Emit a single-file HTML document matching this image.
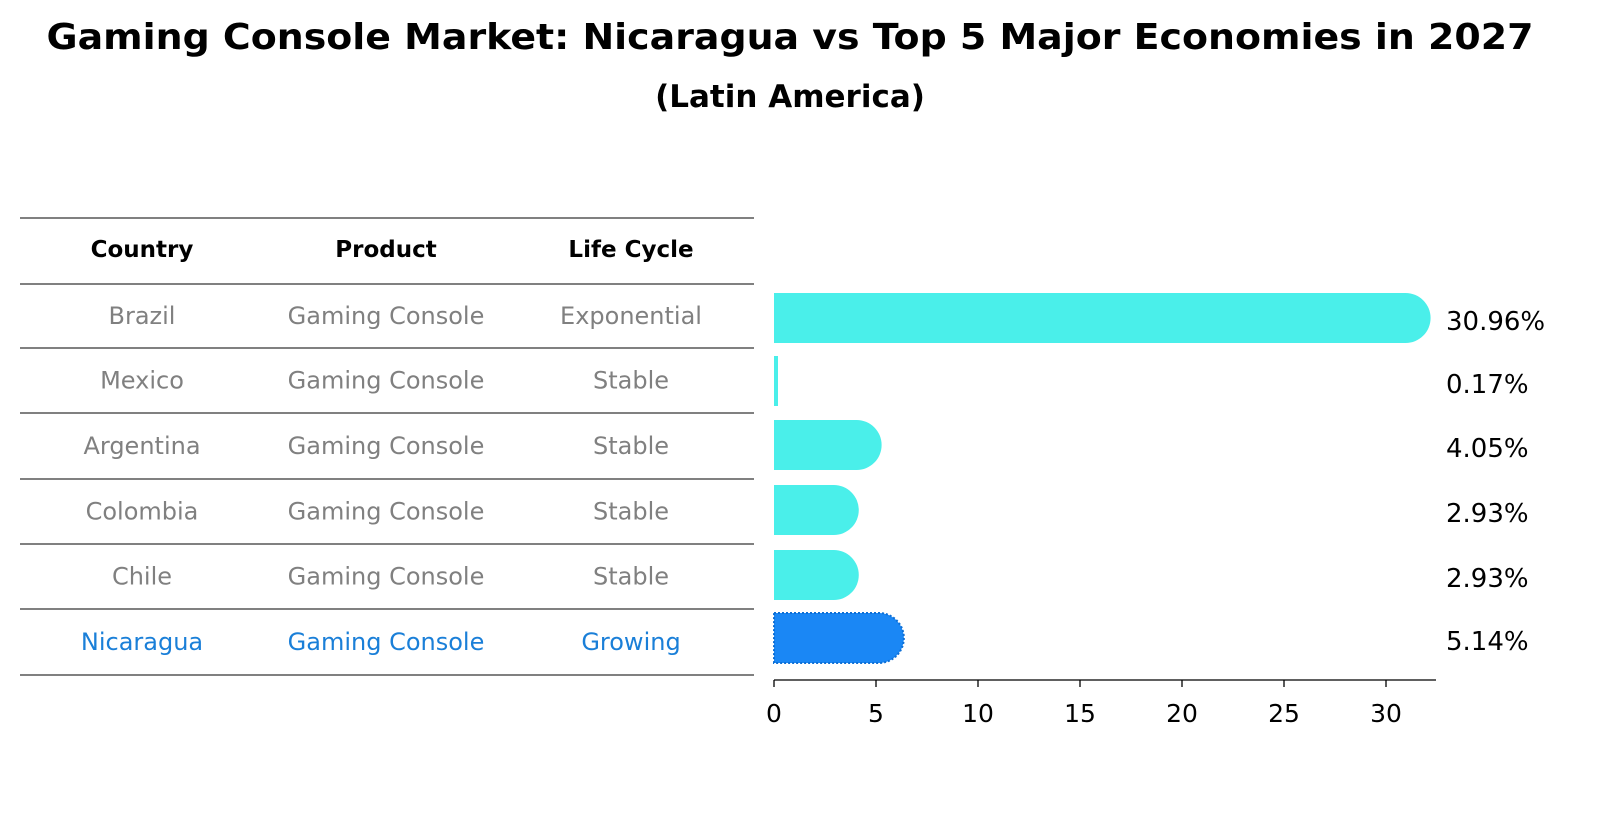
<!DOCTYPE html>
<html><head><meta charset="utf-8"><style>
body{margin:0;background:#fff;font-family:"Liberation Sans","DejaVu Sans",sans-serif;}
</style></head><body>
<svg width="1604" height="823" viewBox="0 0 1604 823" xmlns="http://www.w3.org/2000/svg" font-family="DejaVu Sans, Liberation Sans, sans-serif">
<text x="790" y="49" text-anchor="middle" font-size="36" font-weight="bold" textLength="1487" lengthAdjust="spacingAndGlyphs">Gaming Console Market: Nicaragua vs Top 5 Major Economies in 2027</text>
<text x="790" y="107" text-anchor="middle" font-size="31" font-weight="bold">(Latin America)</text>
<g id="table"></g>
<g id="bars"></g>
</svg>
<script>
const countries=["Brazil","Mexico","Argentina","Colombia","Chile","Nicaragua"];
const products=["Gaming Console","Gaming Console","Gaming Console","Gaming Console","Gaming Console","Gaming Console"];
const lifeCycles=["Exponential","Stable","Stable","Stable","Stable","Growing"];
const shares=[30.96,0.17,4.05,2.93,2.93,5.14];
const xTicks=[0,5,10,15,20,25,30];
const NS="http://www.w3.org/2000/svg";
function mk(tag,attrs,parent){const e=document.createElementNS(NS,tag);for(const k in attrs)e.setAttribute(k,attrs[k]);parent.appendChild(e);return e;}
const table=document.getElementById('table'), bars=document.getElementById('bars');
const lineYs=[218,284,348,413,479,544,609,675];
const colX=[142,386,631];
lineYs.forEach((y,i)=>{const l=mk('line',{x1:20,x2:754,y1:y,y2:y,stroke:'#000','stroke-width':1},table);

});
["Country","Product","Life Cycle"].forEach((h,i)=>{const t=mk('text',{x:colX[i],y:257,'text-anchor':'middle','font-size':23,'font-weight':'bold'},table);t.textContent=h;

});
const rowY=i=>(lineYs[i+1]+lineYs[i+2])/2;
countries.forEach((c,i)=>{const col=i===5?'#1a7fd8':'#808080';
[c,products[i],lifeCycles[i]].forEach((v,j)=>{const t=mk('text',{x:colX[j],y:rowY(i)+8,'text-anchor':'middle','font-size':24,fill:col},table);t.textContent=v;

});});
const x0=774, sx=20.4, bh=50, r=25;
const X=v=>x0+v*sx;
const rowCY=[318,381,445,510,575,638];
shares.forEach((v,i)=>{const cy=rowCY[i];
const col=i===5?'#1a87f5':'#4aefea';
const w=X(v)-x0;let el;
if(w<r){el=mk('rect',{x:x0,y:cy-bh/2,width:Math.max(w,4),height:bh,fill:col},bars);}
else{el=mk('path',{d:`M${x0},${cy-bh/2} H${X(v)} A${r},${r} 0 0 1 ${X(v)},${cy+bh/2} H${x0} Z`,fill:col},bars);
if(i===5){el.setAttribute('stroke','#0d6fd6');el.setAttribute('stroke-dasharray','2,2');el.setAttribute('stroke-width','2');}}


const t=mk('text',{x:1446,y:cy+12,'font-size':26},bars);t.textContent=v.toFixed(2)+'%';

});
const ax=mk('line',{x1:x0,x2:1436,y1:680,y2:680,stroke:'#000','stroke-width':1.3},bars);


xTicks.forEach(v=>{const tk=mk('line',{x1:X(v),x2:X(v),y1:680,y2:687,stroke:'#000','stroke-width':1.3},bars);


const t=mk('text',{x:X(v),y:722,'text-anchor':'middle','font-size':25},bars);t.textContent=v;

});
</script>
</body></html>
